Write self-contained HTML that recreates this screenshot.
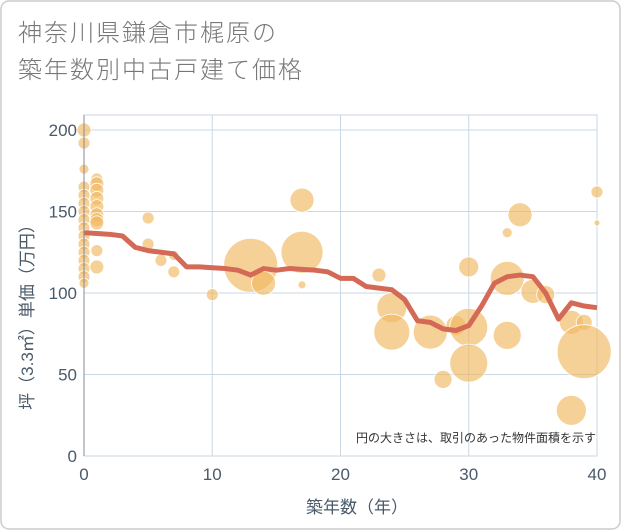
<!DOCTYPE html>
<html><head><meta charset="utf-8"><style>
body{margin:0;background:#fff;}
svg{display:block;font-family:"Liberation Sans","Noto Sans CJK JP",sans-serif;}
</style></head><body>
<svg id="c" width="621" height="530">
<rect x="1" y="1" width="619" height="528" rx="8" fill="#fff" stroke="#ccc" stroke-width="1.5"/>
<text x="18" y="41" font-size="24" letter-spacing="2" fill="#777" font-weight="300">神奈川県鎌倉市梶原の</text>
<text x="18" y="78" font-size="24" letter-spacing="2" fill="#777" font-weight="300">築年数別中古戸建て価格</text>
<g id="grid"></g><g id="bubbles"></g><g id="line"></g><g id="axes"></g>
<text x="596" y="442" font-size="12" fill="#333" text-anchor="end">円の大きさは、取引のあった物件面積を示す</text>
<text x="357" y="513" font-size="17" fill="#4a5a6a" text-anchor="middle">築年数（年）</text>
<text transform="translate(33,313) rotate(-90)" font-size="17" fill="#4a5a6a" text-anchor="middle">坪（3.3㎡）単価（万円）</text>
</svg>
<script>
const xTicks=[0,10,20,30,40];
const yTicks=[0,50,100,150,200];
const bubbleX=[0,0,0,0,0,0,0,0,0,0,0,0,0,0,0,0,1,1,1,1,1,1,1,1,1,1,5,5,6,7,7,10,13,14,17,17,17,23,24,24,27,28,29,30,30,30,33,33,33,34,35,36,38,38,39,39,40,40];
const bubbleY=[200,192,176,165,160,155,150,145,140,135,130,125,120,115,110,106,170,167,163,158,153,148,145,143,126,116,146,130,120,123,113,99,117,106,157,125,105,111,91,76,76,47,80,79,57,116,137,109,74,148,101,99,28,82,82,64,162,143];
const bubbleR=[7,6,5,6,6,6,6,6,6,6,6,6,6,6,6,5,6,7,7,7,7,7,7,7,6,7,6,6,6,5,6,6,27,12,12,21,4,7,15,18,17,9,10,19,19,10,5,17,14,12,12,9,15,12,8,27,6,3];
const lineX=[0,1,2,3,4,5,6,7,8,9,10,11,12,13,14,15,16,17,18,19,20,21,22,23,24,25,26,27,28,29,30,31,32,33,34,35,36,37,38,39,40];
const lineY=[137,136.5,136,135,128,126,125,124,116,116,115.5,115,114,111,115,114,115,114.5,114,113,109,109,104,103,102,96,83,82,78,77,80,92,106,110,111,110,100,84,94,92,91];
const X0=84,X1=597,Y0=456,Y1=130;
const sx=v=>X0+(v-0)/40*(X1-X0);
const sy=v=>Y0-(v/200)*(Y0-Y1);
const NS="http://www.w3.org/2000/svg";
function mk(t,a,p){const e=document.createElementNS(NS,t);for(const k in a)e.setAttribute(k,a[k]);p.appendChild(e);return e;}
const grid=document.getElementById('grid'),axes=document.getElementById('axes');
mk('rect',{x:X0,y:115,width:X1-X0,height:Y0-115,fill:'none',stroke:'#ccd6e0'},grid);
xTicks.forEach(t=>{
 const l=mk('line',{x1:sx(t),x2:sx(t),y1:115,y2:Y0,stroke:'#c9d8e6'},grid);
 
 
 const tx=mk('text',{x:sx(t),y:Y0+24,'font-size':17,fill:'#4a5a6a','text-anchor':'middle'},axes);
 tx.textContent=t;
 
 
});
yTicks.forEach(t=>{
 const l=mk('line',{x1:X0,x2:X1,y1:sy(t),y2:sy(t),stroke:'#c9d8e6'},grid);
 
 
 const tx=mk('text',{x:X0-7,y:sy(t)+6,'font-size':17,fill:'#4a5a6a','text-anchor':'end'},axes);
 tx.textContent=t;
 
 
});
const ax=mk('line',{x1:X0,x2:X0,y1:115,y2:Y0,stroke:'#889'},axes);


const bg=document.getElementById('bubbles');
bubbleX.forEach((v,i)=>{
 const c=mk('circle',{cx:sx(v),cy:sy(bubbleY[i]),r:bubbleR[i],fill:'rgba(240,185,95,0.65)',stroke:'#fff','stroke-width':0.8},bg);
 
 
});
const pl=mk('polyline',{points:lineX.map((v,i)=>sx(v)+','+sy(lineY[i])).join(' '),fill:'none',stroke:'#d46a55','stroke-width':5,'stroke-linejoin':'round'},document.getElementById('line'));


</script>
</body></html>
